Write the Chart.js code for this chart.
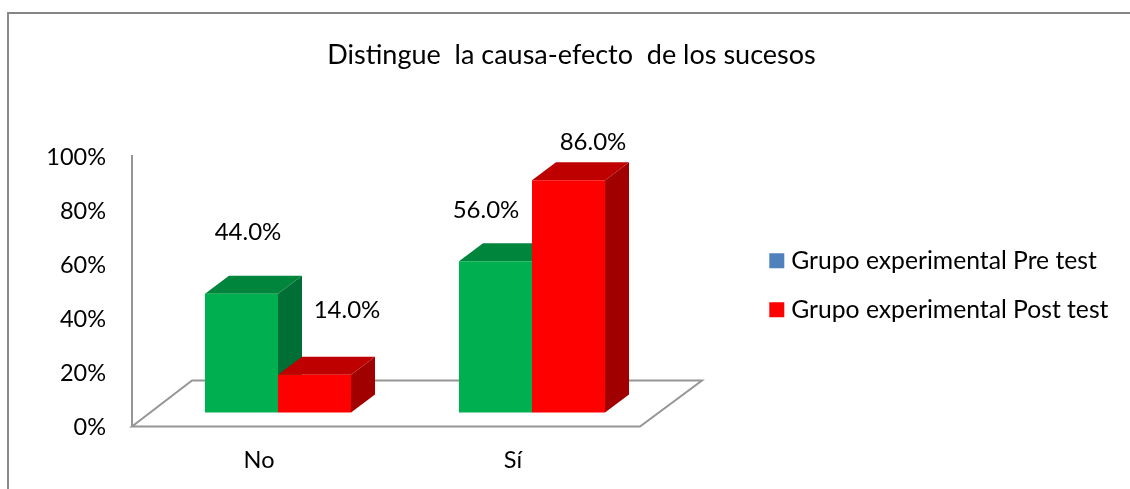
<!DOCTYPE html>
<html>
<head>
<meta charset="utf-8">
<script src="https://cdn.jsdelivr.net/npm/chart.js@4/dist/chart.umd.min.js"></script>
<style>
    html, body { margin: 0; background: #fff; overflow: hidden; }
    #frame { position: absolute; left: 7px; top: 12px; right: 0; bottom: 0; border-left: 2px solid #8c8c8c; border-top: 2px solid #868686; }
    #wrap { position: absolute; left: 0; top: 0; width: 1130px; height: 489px; }
</style>
</head>
<body>
<div id="frame"></div>
<div id="wrap"><canvas id="chart"></canvas></div>
<script>
// Данные
const categories = ['No', 'Sí'];
const seriesNames = ['Grupo experimental Pre test', 'Grupo experimental Post test'];
const preTest = [44, 56];
const postTest = [14, 86];
const chartTitle = 'Distingue  la causa-efecto  de los sucesos';

// Цвета: зеленые столбцы, но в легенде синий квадрат, как в оригинале
const barColors = ['#00B050', '#FF0000'];
const topColors = ['#00853C', '#BF0000'];
const sideColors = ['#006F35', '#A00000'];
const legendColors = ['#4F81BD', '#FF0000'];

const FONT = 'Lato, Carlito, Calibri, sans-serif';

// Подписи расставлены вручную: смещение от верхней середины передней грани
const labelOffsets = [
    [[6.5, -61.5], [-9.5, -51]],
    [[32.5, -64], [24.5, -38]]
];

const plugin3d = {
    id: 'plugin3d',
    beforeLayout(chart) {
        // Ширина легенды фиксирована, чтобы область графика кончалась на нужном месте
        const legend = chart.legend;
        if (!legend._fitWrapped) {
            const fit = legend.fit;
            legend.fit = function() {
                fit.call(this);
                this.width = 456;
            };
            legend._fitWrapped = true;
        }
    },
    afterLayout(chart) {
        // Легенда стоит правее области графика
        chart.legend.left = 750.5;
        chart.legend.right = chart.width;
        chart.legend.top = 224;
    },
    beforeDatasetsDraw(chart) {
        const ctx = chart.ctx;
        const { left, right } = chart.chartArea;
        const y0 = chart.scales.y.getPixelForValue(0) + 0.5;

        // Пол диаграммы
        ctx.save();
        ctx.strokeStyle = '#969696';
        ctx.lineWidth = 2;
        ctx.beginPath();
        ctx.moveTo(left, y0);
        ctx.lineTo(right, y0);
        ctx.lineTo(right + 62, y0 - 46);
        ctx.lineTo(left + 60, y0 - 46);
        ctx.closePath();
        ctx.stroke();
        ctx.restore();

        // Столбцы: сначала зеленые, потом красные, с объемными гранями
        const depthX = 24, depthY = 18;
        ctx.save();
        ctx.translate(19, -13.5);
        [0, 1].forEach(ds => {
            chart.getDatasetMeta(ds).data.forEach(bar => {
                const l = bar.x - bar.width / 2;
                const r = bar.x + bar.width / 2;
                ctx.fillStyle = sideColors[ds];
                ctx.beginPath();
                ctx.moveTo(r, bar.y);
                ctx.lineTo(r + depthX, bar.y - depthY);
                ctx.lineTo(r + depthX, bar.base - depthY);
                ctx.lineTo(r, bar.base);
                ctx.closePath();
                ctx.fill();
                ctx.fillStyle = topColors[ds];
                ctx.beginPath();
                ctx.moveTo(l, bar.y);
                ctx.lineTo(l + depthX, bar.y - depthY);
                ctx.lineTo(r + depthX, bar.y - depthY);
                ctx.lineTo(r, bar.y);
                ctx.closePath();
                ctx.fill();
                bar.draw(ctx);
            });
        });

        // Подписи значений
        ctx.fillStyle = '#000';
        ctx.font = `24px ${FONT}`;
        ctx.textAlign = 'center';
        ctx.textBaseline = 'middle';
        [0, 1].forEach(ds => {
            chart.getDatasetMeta(ds).data.forEach((bar, i) => {
                const value = chart.data.datasets[ds].data[i];
                const [dx, dy] = labelOffsets[ds][i];
                ctx.fillText(value.toFixed(1) + '%', bar.x + dx, bar.y + dy);
            });
        });
        ctx.restore();
        return false;
    }
};

new Chart(document.getElementById('chart'), {
    type: 'bar',
    data: {
        labels: categories,
        datasets: [
            { label: seriesNames[0], data: preTest, backgroundColor: barColors[0], borderWidth: 0 },
            { label: seriesNames[1], data: postTest, backgroundColor: barColors[1], borderWidth: 0 }
        ]
    },
    options: {
        responsive: true,
        maintainAspectRatio: false,
        animation: false,
        categoryPercentage: 0.575,
        barPercentage: 1,
        layout: { padding: { left: 47, right: 34, top: 0, bottom: 16 } },
        plugins: {
            title: {
                display: true,
                text: chartTitle,
                color: '#000',
                font: { family: FONT, size: 27, weight: 'normal' },
                padding: { top: 39, bottom: 84.6 }
            },
            legend: {
                display: true,
                position: 'right',
                align: 'start',
                labels: {
                    color: '#000',
                    font: { family: FONT, size: 24.7 },
                    // Квадрат рисуется толстой обводкой, чтобы текст стоял ближе
                    boxWidth: 4,
                    boxHeight: 4,
                    padding: 24.3,
                    generateLabels: () => seriesNames.map((name, i) => ({
                        text: name,
                        fillStyle: legendColors[i],
                        strokeStyle: legendColors[i],
                        lineWidth: 11,
                        fontColor: '#000',
                        hidden: false,
                        datasetIndex: i
                    }))
                }
            },
            tooltip: { enabled: false }
        },
        scales: {
            x: {
                afterFit: s => { s.height = 47; },
                grid: { display: false, drawTicks: false },
                border: { display: false },
                ticks: { color: '#000', padding: 20.5, font: { family: FONT, size: 23.5 } }
            },
            y: {
                min: 0,
                max: 100,
                afterFit: s => { s.width = 85; },
                grid: { display: false, drawTicks: false },
                border: { display: true, color: '#969696', width: 2 },
                ticks: {
                    stepSize: 20,
                    padding: 26,
                    labelOffset: 1.5,
                    color: '#000',
                    font: { family: FONT, size: 23.5 },
                    callback: v => v + '%'
                }
            }
        }
    },
    plugins: [plugin3d]
});
</script>
</body>
</html>
